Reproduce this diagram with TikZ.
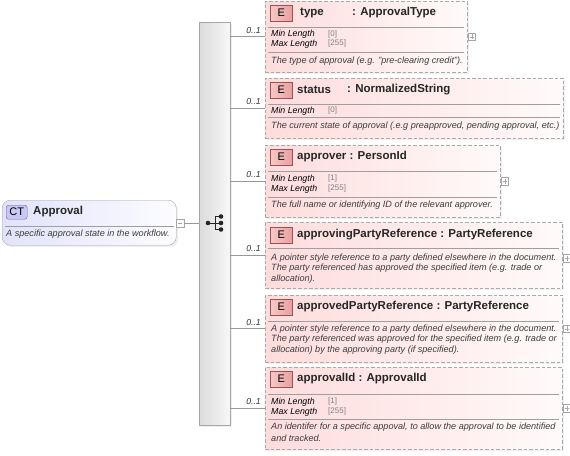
\documentclass[tikz,border=0pt]{standalone}
\usepackage{fontspec}
\setmainfont{Liberation Sans}
\usetikzlibrary{shadows,calc}
\definecolor{pinkL}{RGB}{254,220,220}
\definecolor{pinkR}{RGB}{255,250,250}
\definecolor{ebord}{RGB}{170,170,170}
\definecolor{badgeL}{RGB}{246,200,200}
\definecolor{badgeR}{RGB}{232,160,160}
\definecolor{badgeB}{RGB}{160,80,80}
\definecolor{ctL}{RGB}{226,226,252}
\definecolor{ctR}{RGB}{252,252,255}
\definecolor{ctbadge}{RGB}{200,200,242}
\definecolor{ctbadgeB}{RGB}{100,100,170}
\definecolor{desc}{RGB}{60,60,60}
\definecolor{facet}{RGB}{130,130,130}
\begin{document}
\begin{tikzpicture}[x=1pt,y=-1pt,
  ebox/.style={draw=ebord, dash pattern=on 3.5pt off 2pt, left color=pinkL, right color=pinkR,
    anchor=north west, inner sep=0pt,
    drop shadow={shadow xshift=2pt, shadow yshift=-2pt, fill=gray!25, draw=none}},
  ebadge/.style={draw=badgeB, left color=badgeL, right color=badgeR, anchor=north west,
    minimum width=22pt, minimum height=16pt, inner sep=0pt, font=\fontsize{11}{12}\selectfont},
  etitle/.style={anchor=west, inner sep=0pt, font=\fontsize{11.5}{13}\selectfont\bfseries, text=black!85},
  flabel/.style={anchor=west, inner sep=0pt, font=\fontsize{8.8}{10}\selectfont\itshape},
  fval/.style={anchor=west, inner sep=0pt, font=\fontsize{8}{10}\selectfont, text=facet},
  dtext/.style={anchor=west, inner sep=0pt, font=\fontsize{9.1}{10}\selectfont\itshape, text=desc},
  sepline/.style={draw=gray!75, line width=0.6pt},
  conn/.style={draw=gray!80, line width=0.6pt},
  plusbox/.style={draw=gray!70, fill=white, minimum size=7.5pt, inner sep=0pt},
  mult/.style={anchor=south east, inner sep=0pt, font=\fontsize{8.7}{10}\selectfont\itshape, text=black!80},
  dotnode/.style={circle, fill=black!85, inner sep=0pt, minimum size=4.6pt}
]
\useasboundingbox (0,0) rectangle (570,455);

% ---- CT box ----
\node[draw=gray!70, rounded corners=8pt, left color=ctL, right color=ctR, anchor=north west,
  minimum width=174pt, minimum height=45pt, inner sep=0pt,
  drop shadow={shadow xshift=2pt, shadow yshift=-2pt, fill=gray!25, draw=none}] (ct) at (2,200) {};
\node[draw=ctbadgeB, fill=ctbadge, rounded corners=2.5pt, anchor=north west, minimum width=21pt,
  minimum height=14pt, inner sep=0pt, font=\fontsize{11}{12}\selectfont] (ctb) at (6,205) {CT};
\node[etitle] (ctt) at (33,212) {Approval};
\draw[sepline] (5,226) -- (174,226);
\node[dtext] (ctd) at (6,234.5) {A specific approval state in the workflow.};
\node[plusbox, fill=white] (ctm) at (180,223) {};
\draw[gray!70] (ctm.west) ++(1.6,0) -- ++(4.3,0);

% ---- sequence bar ----
\node[draw=gray!70, left color=gray!28, right color=gray!6, anchor=north west, minimum width=31pt,
  minimum height=403pt, inner sep=0pt,
  drop shadow={shadow xshift=2pt, shadow yshift=-2pt, fill=gray!25, draw=none}] (seq) at (199,22) {};
\draw[conn] (ctm.east) -- (ctm.east -| seq.west);
% sequence icon
\node[dotnode] (s0) at (208,223) {};
\node[dotnode] (s1) at (221,216.5) {};
\node[dotnode] (s2) at (221,223) {};
\node[dotnode] (s3) at (221,229.5) {};
\draw[black!85, line width=0.9pt] (s0.center) -- (215,223) (215,216.5) -- (215,229.5)
  (215,216.5) -- (s1.center) (215,223) -- (s2.center) (215,229.5) -- (s3.center);

% ---- element boxes ----
\node[ebox, minimum width=202pt, minimum height=71pt] (b1) at (265,1) {};
\node[ebox, minimum width=298pt, minimum height=60pt] (b2) at (265,78) {};
\node[ebox, minimum width=235pt, minimum height=72pt] (b3) at (265,145) {};
\node[ebox, minimum width=297pt, minimum height=66pt] (b4) at (265,222) {};
\node[ebox, minimum width=297pt, minimum height=67pt] (b5) at (265,295) {};
\node[ebox, minimum width=297pt, minimum height=82pt] (b6) at (265,367) {};

% connectors and multiplicities
\foreach \b in {b1,b2,b3,b4,b5,b6}{
  \draw[conn] (seq.east |- \b.west) -- (\b.west);
  \node[mult] at ($(\b.west)+(-4,-3)$) {0..1};
}

% box 1
\node[ebadge] (e1) at (270,5) {E};
\node[etitle] (t1) at (300,13) {type};
\node[etitle] (y1) at (352,13) {: ApprovalType};
\draw[sepline] (268,27) -- (464,27);
\node[flabel] (m1a) at (271,34.5) {Min Length};
\node[fval] (v1a) at (328,34) {[0]};
\node[flabel] (m1b) at (271,44) {Max Length};
\node[fval] (v1b) at (328,43.5) {[255]};
\draw[sepline] (268,52) -- (464,52);
\node[dtext] (d1) at (271,61) {The type of approval (e.g. "pre-clearing credit").};
\node[plusbox] (p1) at ($(b1.east)+(4.5,0)$) {};

% box 2
\node[ebadge] (e2) at (270,82) {E};
\node[etitle] (t2) at (297,90) {status};
\node[etitle] (y2) at (347,90) {: NormalizedString};
\draw[sepline] (268,104) -- (560,104);
\node[flabel] (m2a) at (271,111) {Min Length};
\node[fval] (v2a) at (328,110.5) {[0]};
\draw[sepline] (268,117) -- (560,117);
\node[dtext] (d2) at (271,126.5) {The current state of approval (.e.g preapproved, pending approval, etc.)};

% box 3
\node[ebadge] (e3) at (270,149) {E};
\node[etitle] (t3) at (297,157) {approver : PersonId};
\draw[sepline] (268,171) -- (497,171);
\node[flabel] (m3a) at (271,179) {Min Length};
\node[fval] (v3a) at (328,178.5) {[1]};
\node[flabel] (m3b) at (271,189) {Max Length};
\node[fval] (v3b) at (328,188.5) {[255]};
\draw[sepline] (268,197) -- (497,197);
\node[dtext] (d3) at (271,205.5) {The full name or identifying ID of the relevant approver.};
\node[plusbox] (p3) at ($(b3.east)+(4.5,0)$) {};

% box 4
\node[ebadge] (e4) at (270,227) {E};
\node[etitle] (t4) at (297,235) {approvingPartyReference : PartyReference};
\draw[sepline] (268,248) -- (559,248);
\node[dtext] (d4a) at (271,258) {A pointer style reference to a party defined elsewhere in the document.};
\node[dtext] (d4b) at (271,268.5) {The party referenced has approved the specified item (e.g. trade or};
\node[dtext] (d4c) at (271,279) {allocation).};
\node[plusbox] (p4) at ($(b4.east)+(4.5,3)$) {};

% box 5
\node[ebadge] (e5) at (270,299) {E};
\node[etitle] (t5) at (297,307) {approvedPartyReference : PartyReference};
\draw[sepline] (268,321) -- (559,321);
\node[dtext] (d5a) at (271,329) {A pointer style reference to a party defined elsewhere in the document.};
\node[dtext] (d5b) at (271,339.5) {The party referenced was approved for the specified item (e.g. trade or};
\node[dtext] (d5c) at (271,350) {allocation) by the approving party (if specified).};
\node[plusbox] (p5) at ($(b5.east)+(4.5,0)$) {};

% box 6
\node[ebadge] (e6) at (270,371) {E};
\node[etitle] (t6) at (297,379) {approvalId : ApprovalId};
\draw[sepline] (268,394) -- (559,394);
\node[flabel] (m6a) at (271,402) {Min Length};
\node[fval] (v6a) at (328,401.5) {[1]};
\node[flabel] (m6b) at (271,412) {Max Length};
\node[fval] (v6b) at (328,411.5) {[255]};
\draw[sepline] (268,419) -- (559,419);
\node[dtext] (d6a) at (271,427.5) {An identifer for a specific appoval, to allow the approval to be identified};
\node[dtext] (d6b) at (271,438) {and tracked.};
\node[plusbox] (p6) at ($(b6.east)+(4.5,0)$) {};

% plus signs
\foreach \p in {p1,p3,p4,p5,p6}{
  \draw[gray!70] ($(\p.center)+(-2.3,0)$) -- ($(\p.center)+(2.3,0)$)
                 ($(\p.center)+(0,-2.3)$) -- ($(\p.center)+(0,2.3)$);
}
\end{tikzpicture}
\end{document}
